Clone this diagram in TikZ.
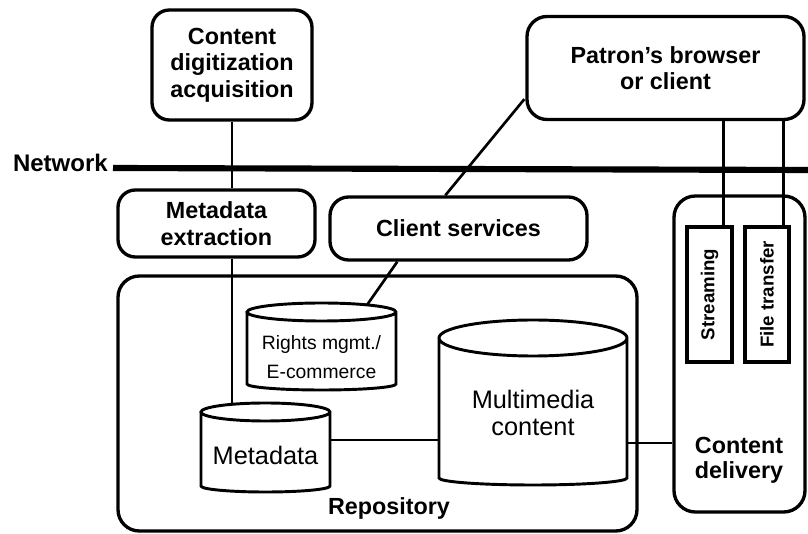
\documentclass[tikz,border=0pt]{standalone}
\usepackage{fontspec}
\setmainfont{Liberation Sans}
\usetikzlibrary{calc}
\begin{document}
\begin{tikzpicture}[x=0.75pt,y=0.75pt,
  box/.style={draw,line width=2.5pt,rounded corners=13pt,fill=white,align=center,inner sep=0pt,
    font=\bfseries\fontsize{17.5}{20}\selectfont},
  bigbox/.style={draw,line width=2.5pt,rounded corners=16pt,inner sep=0pt},
  slot/.style={draw,line width=2.5pt,fill=white,inner sep=0pt},
  cyl/.style={draw,line width=2.2pt,fill=white},
  link/.style={line width=2pt},
  netline/.style={line width=4.6pt},
  bold/.style={font=\bfseries\fontsize{17.5}{19}\selectfont,align=center,inner sep=0pt},
  plain/.style={font=\fontsize{19}{20.5}\selectfont,align=center,inner sep=0pt},
  vlabel/.style={font=\bfseries\fontsize{14}{15}\selectfont,rotate=90,inner sep=0pt}]
\useasboundingbox (0,0) rectangle (808,-534);

% outer containers
\node[bigbox,minimum width=389.25pt,minimum height=191.25pt] (repo) at (377.5,-403.5) {};
\node[bigbox,minimum width=98.25pt,minimum height=237pt] (delivery) at (739.5,-354) {};
\node[bold] (repolabel) at (389,-508) {Repository};
\node[bold] (dellabel) at (739,-460) {Content\\delivery};

% network backbone
\node[font=\bfseries\fontsize{18}{20}\selectfont,anchor=east,inner sep=0pt] (net) at (108,-163) {Network};
\coordinate (netend) at (808,-170);
\draw[netline] ($(net.east)+(5,-5)$) -- (netend);

% rounded process boxes
\node[box,minimum width=120pt,minimum height=82.5pt] (content) at (232,-65)
  {Content\\digitization\\acquisition};
\node[box,minimum width=207.75pt,minimum height=77.25pt,rounded corners=15pt,
  font=\bfseries\fontsize{17.5}{19.5}\selectfont] (patron) at (665.5,-68)
  {Patron's browser\\or client};
\node[box,minimum width=147.75pt,minimum height=50.25pt] (extract) at (216.5,-223.5)
  {Metadata\\extraction};
\node[box,minimum width=192.75pt,minimum height=47.25pt,rounded corners=14pt] (client) at (458.5,-228.5)
  {Client services};

% delivery channels
\node[slot,minimum width=33.75pt,minimum height=101.25pt] (stream) at (709.5,-294.5) {};
\node[slot,minimum width=33pt,minimum height=101.25pt] (file) at (767,-294.5) {};
\node[vlabel] (streamlabel) at (stream.center) {Streaming};
\node[vlabel] (filelabel) at (file.center) {File transfer};

% data stores
\draw[cyl] (247,-312) -- (247,-384) arc[start angle=180,end angle=360,x radius=74.5,y radius=6]
  -- (396,-312) arc[start angle=0,end angle=360,x radius=74.5,y radius=9];
\node[font=\fontsize{14.5}{21.75}\selectfont,align=center,inner sep=0pt] (rights) at (321.5,-357)
  {Rights mgmt./\\E-commerce};

\draw[cyl] (201,-412) -- (201,-486) arc[start angle=180,end angle=360,x radius=64.5,y radius=6]
  -- (330,-412) arc[start angle=0,end angle=360,x radius=64.5,y radius=9];
\node[plain] (meta) at (265.5,-455) {Metadata};

\draw[cyl] (439,-338) -- (439,-478) arc[start angle=180,end angle=360,x radius=94,y radius=7]
  -- (627,-338) arc[start angle=0,end angle=360,x radius=94,y radius=18];
\node[plain] (multi) at (533,-413) {Multimedia\\content};

% connection points on the stores
\coordinate (metatop) at (232,-404);
\coordinate (metaright) at (330,-440);
\coordinate (rightstop) at (367,-305);
\coordinate (multileft) at (439,-440);
\coordinate (multiright) at (627,-443);

% connectors
\draw[link] (content.south) -- (content.south |- extract.north);
\draw[link] (content.south |- extract.south) -- (metatop);
\draw[link] ($(patron.south west)+(-1,22)$) -- ($(client.north west)+(117,0)$);
\draw[link] ($(client.south west)+(69,0)$) -- (rightstop);
\draw[link] (metaright) -- (multileft);
\draw[link] (multiright) -- (delivery.west |- multiright);
\draw[link] ($(stream.north east)+(-10,0)$) coordinate (s1) -- (s1 |- patron.south);
\draw[link] ($(file.north east)+(-7,0)$) coordinate (f1) -- (f1 |- patron.south);
\end{tikzpicture}
\end{document}
